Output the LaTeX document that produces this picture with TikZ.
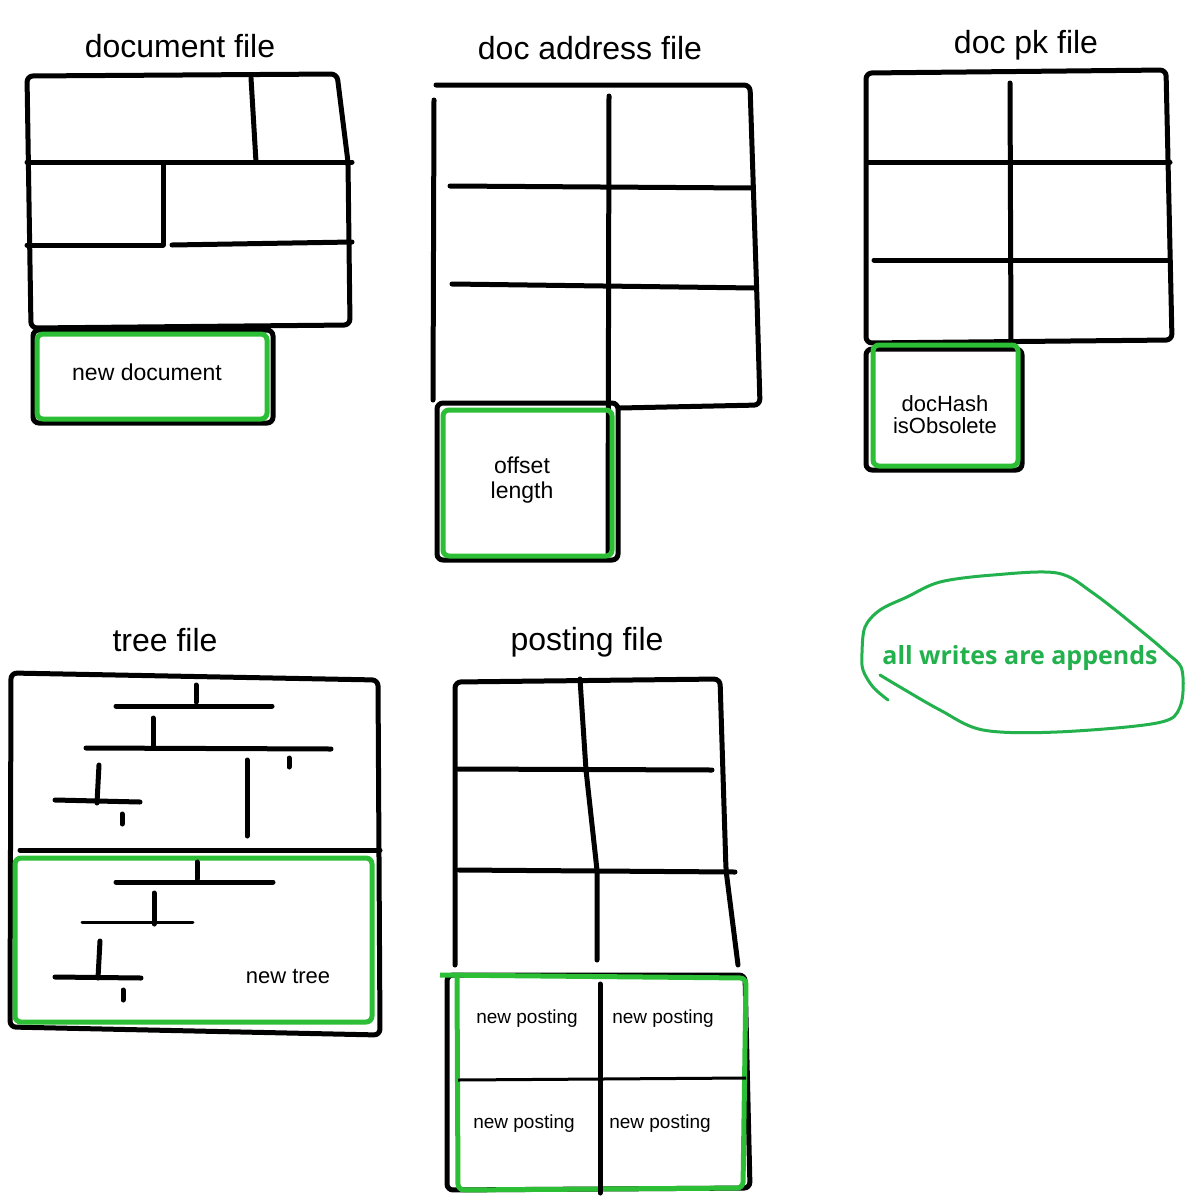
\documentclass[tikz,border=0pt]{standalone}
\usepackage{fontspec}
\setmainfont{Liberation Sans}
\newfontfamily\greenfont{Open Sans}
\definecolor{boxgreen}{RGB}{44,190,52}
\definecolor{txtgreen}{RGB}{34,177,76}
\begin{document}
\begin{tikzpicture}[x=1pt,y=-1pt,
  ink/.style={line width=5pt,line cap=round,line join=round,black},
  thin ink/.style={line width=3pt,line cap=round,black},
  gbox/.style={line width=5pt,boxgreen,rounded corners=6pt},
  kbox/.style={line width=5pt,black,rounded corners=6pt},
  title/.style={font=\fontsize{32}{36}\selectfont,inner sep=0pt},
  lab/.style={font=\fontsize{23}{25}\selectfont,inner sep=0pt,align=center},
  plab/.style={font=\fontsize{19}{21}\selectfont,inner sep=0pt}]
\useasboundingbox (0,0) rectangle (1200,1200);
\fill[white] (0,0) rectangle (1200,1200);

% ---------------- document file
\node[title] (t1) at (180,46) {document file};
\draw[ink,rounded corners=6pt] (27,76) -- (337,74) -- (348,162) -- (350,325) -- (31,328) -- cycle;
\draw[ink] (27,162) -- (352,162);
\draw[ink] (251,78) -- (256,162);
\draw[ink] (163,164) -- (163,245);
\draw[ink] (27,245) -- (163,245);
\draw[ink] (172,245) -- (352,242);
\draw[kbox] (33,330) rectangle (273,423);
\draw[gbox] (37,334) rectangle (267,419);
\node[lab] (nd) at (147,372) {new document};

% ---------------- doc address file
\node[title] (t2) at (590,48) {doc address file};
\draw[ink,rounded corners=6pt] (436,85) -- (750,85) -- (757,300) -- (760,405) -- (620,408);
\draw[ink] (434,100) -- (433,400);
\draw[ink] (609,96) -- (608,555);
\draw[ink] (450,186) -- (752,188);
\draw[ink] (452,284) -- (755,288);
\draw[kbox] (437,403) rectangle (618,560);
\draw[gbox] (443,410) rectangle (612,556);
\node[lab] (ol) at (522,480) {offset\\length};

% ---------------- doc pk file
\node[title] (t3) at (1026,45) {doc pk file};
\draw[ink,rounded corners=6pt] (866,73) -- (1166,70) -- (1172,340) -- (866,343) -- cycle;
\draw[ink] (1010,83) -- (1011,342);
\draw[ink] (867,162) -- (1170,162);
\draw[ink] (874,260) -- (1170,260);
\draw[kbox] (866,349) rectangle (1022,470);
\draw[gbox] (873,345) rectangle (1018,466);
\node[lab,font=\fontsize{22}{22}\selectfont] (dh) at (945,415) {docHash\\isObsolete};

% ---------------- tree file
\node[title] (t4) at (165,640) {tree file};
\draw[ink,rounded corners=6pt] (11,673) -- (378,680) -- (380,1035) -- (10,1027) -- cycle;
\draw[ink] (20,850) -- (380,850);
\draw[gbox] (15,858) rectangle (372,1022);
% upper tree
\draw[ink] (116,706) -- (272,706);
\draw[ink] (196,685) -- (196,702);
\draw[ink] (86,748) -- (331,749);
\draw[ink] (153,718) -- (153,748);
\draw[ink] (55,800) -- (140,802);
\draw[ink] (99,765) -- (97,803);
\draw[ink] (122,814) -- (122,824);
\draw[ink] (247,760) -- (247,836);
\draw[ink] (289,758) -- (289,767);
% lower tree
\draw[ink] (116,882) -- (273,882);
\draw[ink] (197,862) -- (197,879);
\draw[thin ink] (82,922) -- (193,922);
\draw[ink] (154,893) -- (154,924);
\draw[ink] (55,977) -- (141,978);
\draw[ink] (100,941) -- (98,978);
\draw[ink] (123,990) -- (123,1000);
\node[lab,font=\fontsize{22}{22}\selectfont] (nt) at (288,976) {new tree};

% ---------------- posting file
\node[title] (t5) at (587,642) {posting file};
\draw[ink,rounded corners=6pt] (455,965) -- (455,682) -- (720,679) -- (726,870) -- (738,965);
\draw[ink] (580,679) -- (586,770) -- (597,870) -- (597,960);
\draw[ink] (458,769) -- (712,770);
\draw[ink] (459,870) -- (735,872);
\draw[kbox] (447,975) -- (745,975) -- (750,1188) -- (447,1190) -- cycle;
\draw[gbox] (440,975) -- (746,978) -- (743,1188) -- (458,1190) -- (457,977);
\draw[ink] (600,984) -- (600,1193);
\draw[line width=3pt,black] (458,1080) -- (746,1078);
\node[plab] (p1) at (527,1019) {new posting};
\node[plab] (p2) at (663,1019) {new posting};
\node[plab] (p3) at (524,1124) {new posting};
\node[plab] (p4) at (660,1124) {new posting};

% ---------------- note
\draw[line width=3pt,txtgreen,line cap=round,line join=round] plot[smooth,tension=0.55] coordinates {
  (880,675) (900,687) (940,710) (983,730) (1057,732) (1157,723) (1180,707)
  (1182,670) (1167,653) (1140,630) (1093,593) (1057,573) (993,575) (940,582)
  (907,597) (880,610) (865,627) (862,653) (863,670) (873,687) (888,700)};
\node[font=\greenfont\bfseries\fontsize{25}{28}\selectfont,text=txtgreen,inner sep=0pt] (note) at (1020,658) {all writes are appends};
\end{tikzpicture}
\end{document}
